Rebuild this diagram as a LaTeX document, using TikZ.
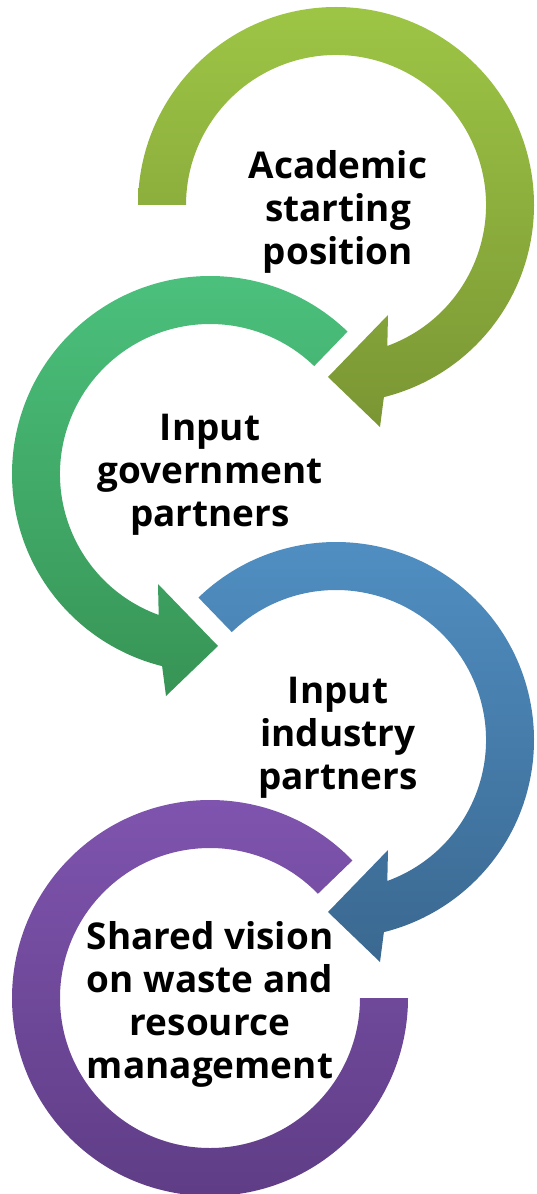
\documentclass[tikz,border=0pt]{standalone}
\usepackage{fontspec}
\setmainfont{Open Sans}
\usepackage{tikz}

\definecolor{oliveTop}{HTML}{9DC545}
\definecolor{oliveBot}{HTML}{7A9634}
\definecolor{greenTop}{HTML}{4CC27E}
\definecolor{greenBot}{HTML}{379455}
\definecolor{blueTop}{HTML}{5190C4}
\definecolor{blueBot}{HTML}{3A6890}
\definecolor{purpTop}{HTML}{8055B0}
\definecolor{purpBot}{HTML}{5E3C84}

\begin{document}
\begin{tikzpicture}[x=0.2mm, y=0.2mm]
  \useasboundingbox (0,0) rectangle (536,-1194);

        \coordinate (c1) at (336,-205);
        \coordinate (c2) at (210,-474);
        \coordinate (c3) at (336,-740);
        \coordinate (c4) at (210,-998);

        % rings, each one turning into the next
        \shade[top color=oliveTop, bottom color=oliveBot, shift={(c1)}]
          (180:198) arc[start angle=180, end angle=-76, radius=198]
          -- (44,-222) -- (-8,-172) -- (52,-110)
          -- (-70:150) arc[start angle=-70, end angle=180, radius=150] -- cycle;
        \shade[top color=greenTop, bottom color=greenBot, shift={(c2)}]
          (46:198) arc[start angle=46, end angle=256, radius=198]
          -- (-44,-222) -- (8,-172) -- (-52,-110)
          -- (250:150) arc[start angle=250, end angle=46, radius=150] -- cycle;
        \shade[top color=blueTop, bottom color=blueBot, shift={(c3)}]
          (134:198) arc[start angle=134, end angle=-76, radius=198]
          -- (44,-222) -- (-8,-172) -- (52,-110)
          -- (-70:150) arc[start angle=-70, end angle=134, radius=150] -- cycle;
        \shade[top color=purpTop, bottom color=purpBot, shift={(c4)}]
          (44:198) arc[start angle=44, end angle=360, radius=198]
          -- (0:150) arc[start angle=360, end angle=44, radius=150] -- cycle;

        \begin{scope}[every node/.style={align=center, inner sep=0pt,
            font=\fontsize{21}{24.5}\selectfont\bfseries}]
          \node (1) at (338,-212) {Academic\\starting\\position};
          \node (2) at (210,-475) {Input\\government\\partners};
          \node (3) at (338,-738) {Input\\industry\\partners};
          \node (4) at (210,-1004) {Shared vision\\on waste and\\resource\\management};
        \end{scope}

      \end{tikzpicture}
\end{document}
